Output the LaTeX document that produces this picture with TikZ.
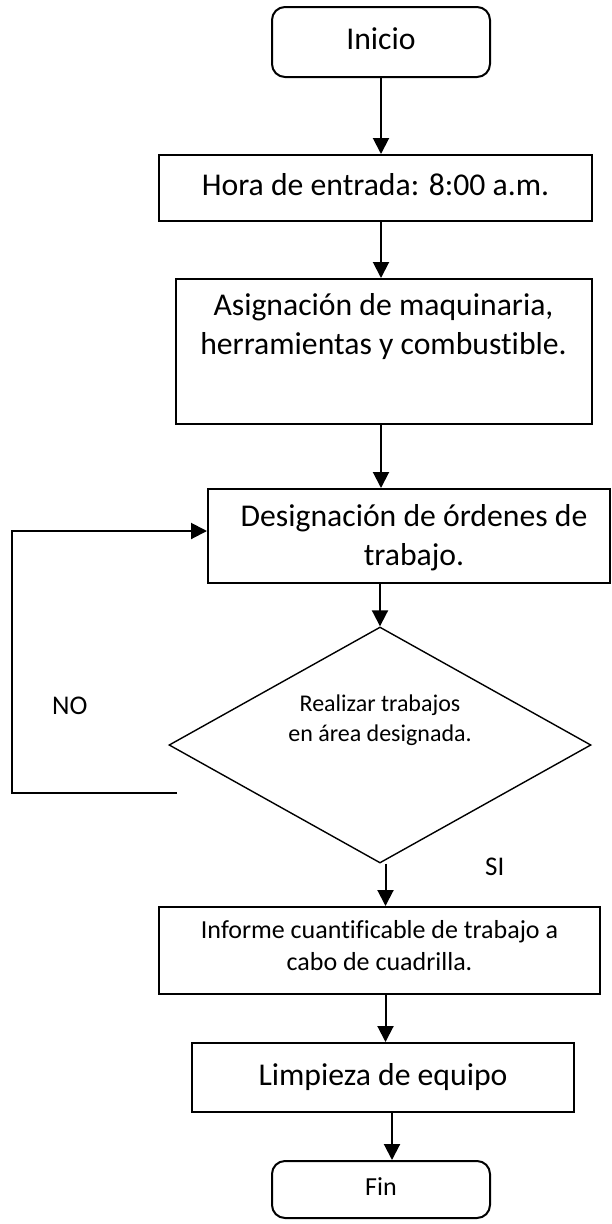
\documentclass[tikz,border=0pt]{standalone}
\usepackage{fontspec}
\setmainfont{Carlito}[Ligatures=NoCommon]
\usetikzlibrary{arrows.meta,shapes.geometric}
\begin{document}
\begin{tikzpicture}[x=1pt,y=-1pt,
  box/.style={draw, line width=2pt, inner sep=0pt, align=center,
    execute at begin node=\strut, execute at end node=\strut},
  rbox/.style={box, rounded corners=13pt},
  txt/.style={inner sep=0pt, align=center,
    execute at begin node=\strut, execute at end node=\strut},
  big/.style={font=\fontsize{31.7}{38.7}\selectfont},
  mid/.style={font=\fontsize{26}{31.7}\selectfont},
  small/.style={font=\fontsize{24}{29.3}\selectfont},
  lab/.style={font=\fontsize{27}{33}\selectfont},
  arr/.style={-{Triangle[length=16pt,width=16pt]}, line width=2pt}]
\useasboundingbox (0,0) rectangle (611,1224);

% nodes
\node[rbox, big, minimum width=218pt, minimum height=70pt] (inicio) at (381,42) {Inicio};
\node[box, big, minimum width=433pt, minimum height=66pt] (hora) at (375.5,188) {Hora de entrada: 8:00 a.m.};
\node[box, minimum width=416pt, minimum height=145pt] (asig) at (384,351.5) {};
\node[txt, big] (asigt) at (383.5,329.6) {Asignación de maquinaria,\\herramientas y combustible.};
\node[box, minimum width=402pt, minimum height=94pt] (desig) at (409,536) {};
\node[txt, big] (desigt) at (414,540.6) {Designación de órdenes de\\trabajo.};
\node[draw, diamond, line width=1.4pt, minimum width=422pt, minimum height=236pt, inner sep=0pt] (dec) at (380,745) {};
\node[txt, small] (dect) at (380,722.7) {Realizar trabajos\\en área designada.};
\node[box, mid, minimum width=441pt, minimum height=87pt] (inf) at (379.5,950.5) {Informe cuantificable de trabajo a\\cabo de cuadrilla.};
\node[box, big, minimum width=382pt, minimum height=69pt] (limp) at (383,1077.5) {Limpieza de equipo};
\node[rbox, mid, minimum width=218pt, minimum height=57pt] (fin) at (381,1189.5) {Fin};

\node[txt, lab, anchor=base west] (no) at (52,714) {NO};
\node[txt, lab, anchor=base west] (si) at (485,875) {SI};

% helper coordinates
\coordinate (ax) at (381,0);
\coordinate (ax3) at (385.5,0);
\coordinate (ax4) at (392,0);
\coordinate (loopend) at (177,793);
\coordinate (loopx) at (12,0);
\coordinate (loopy) at (0,531);

% connectors
\draw[arr] (inicio.south -| ax) -- (hora.north -| ax);
\draw[arr] (hora.south -| ax) -- (asig.north -| ax);
\draw[arr] (asig.south -| ax) -- (desig.north -| ax);
\draw[arr] (desig.south -| dec.north) -- (dec.north);
\draw[arr] (dec.south -| ax3) -- (inf.north -| ax3);
\draw[arr] (inf.south -| ax3) -- (limp.north -| ax3);
\draw[arr] (limp.south -| ax4) -- (fin.north -| ax4);
\draw[arr] (loopend) -| (loopx |- loopy) -- (desig.west |- loopy);
\end{tikzpicture}
\end{document}
